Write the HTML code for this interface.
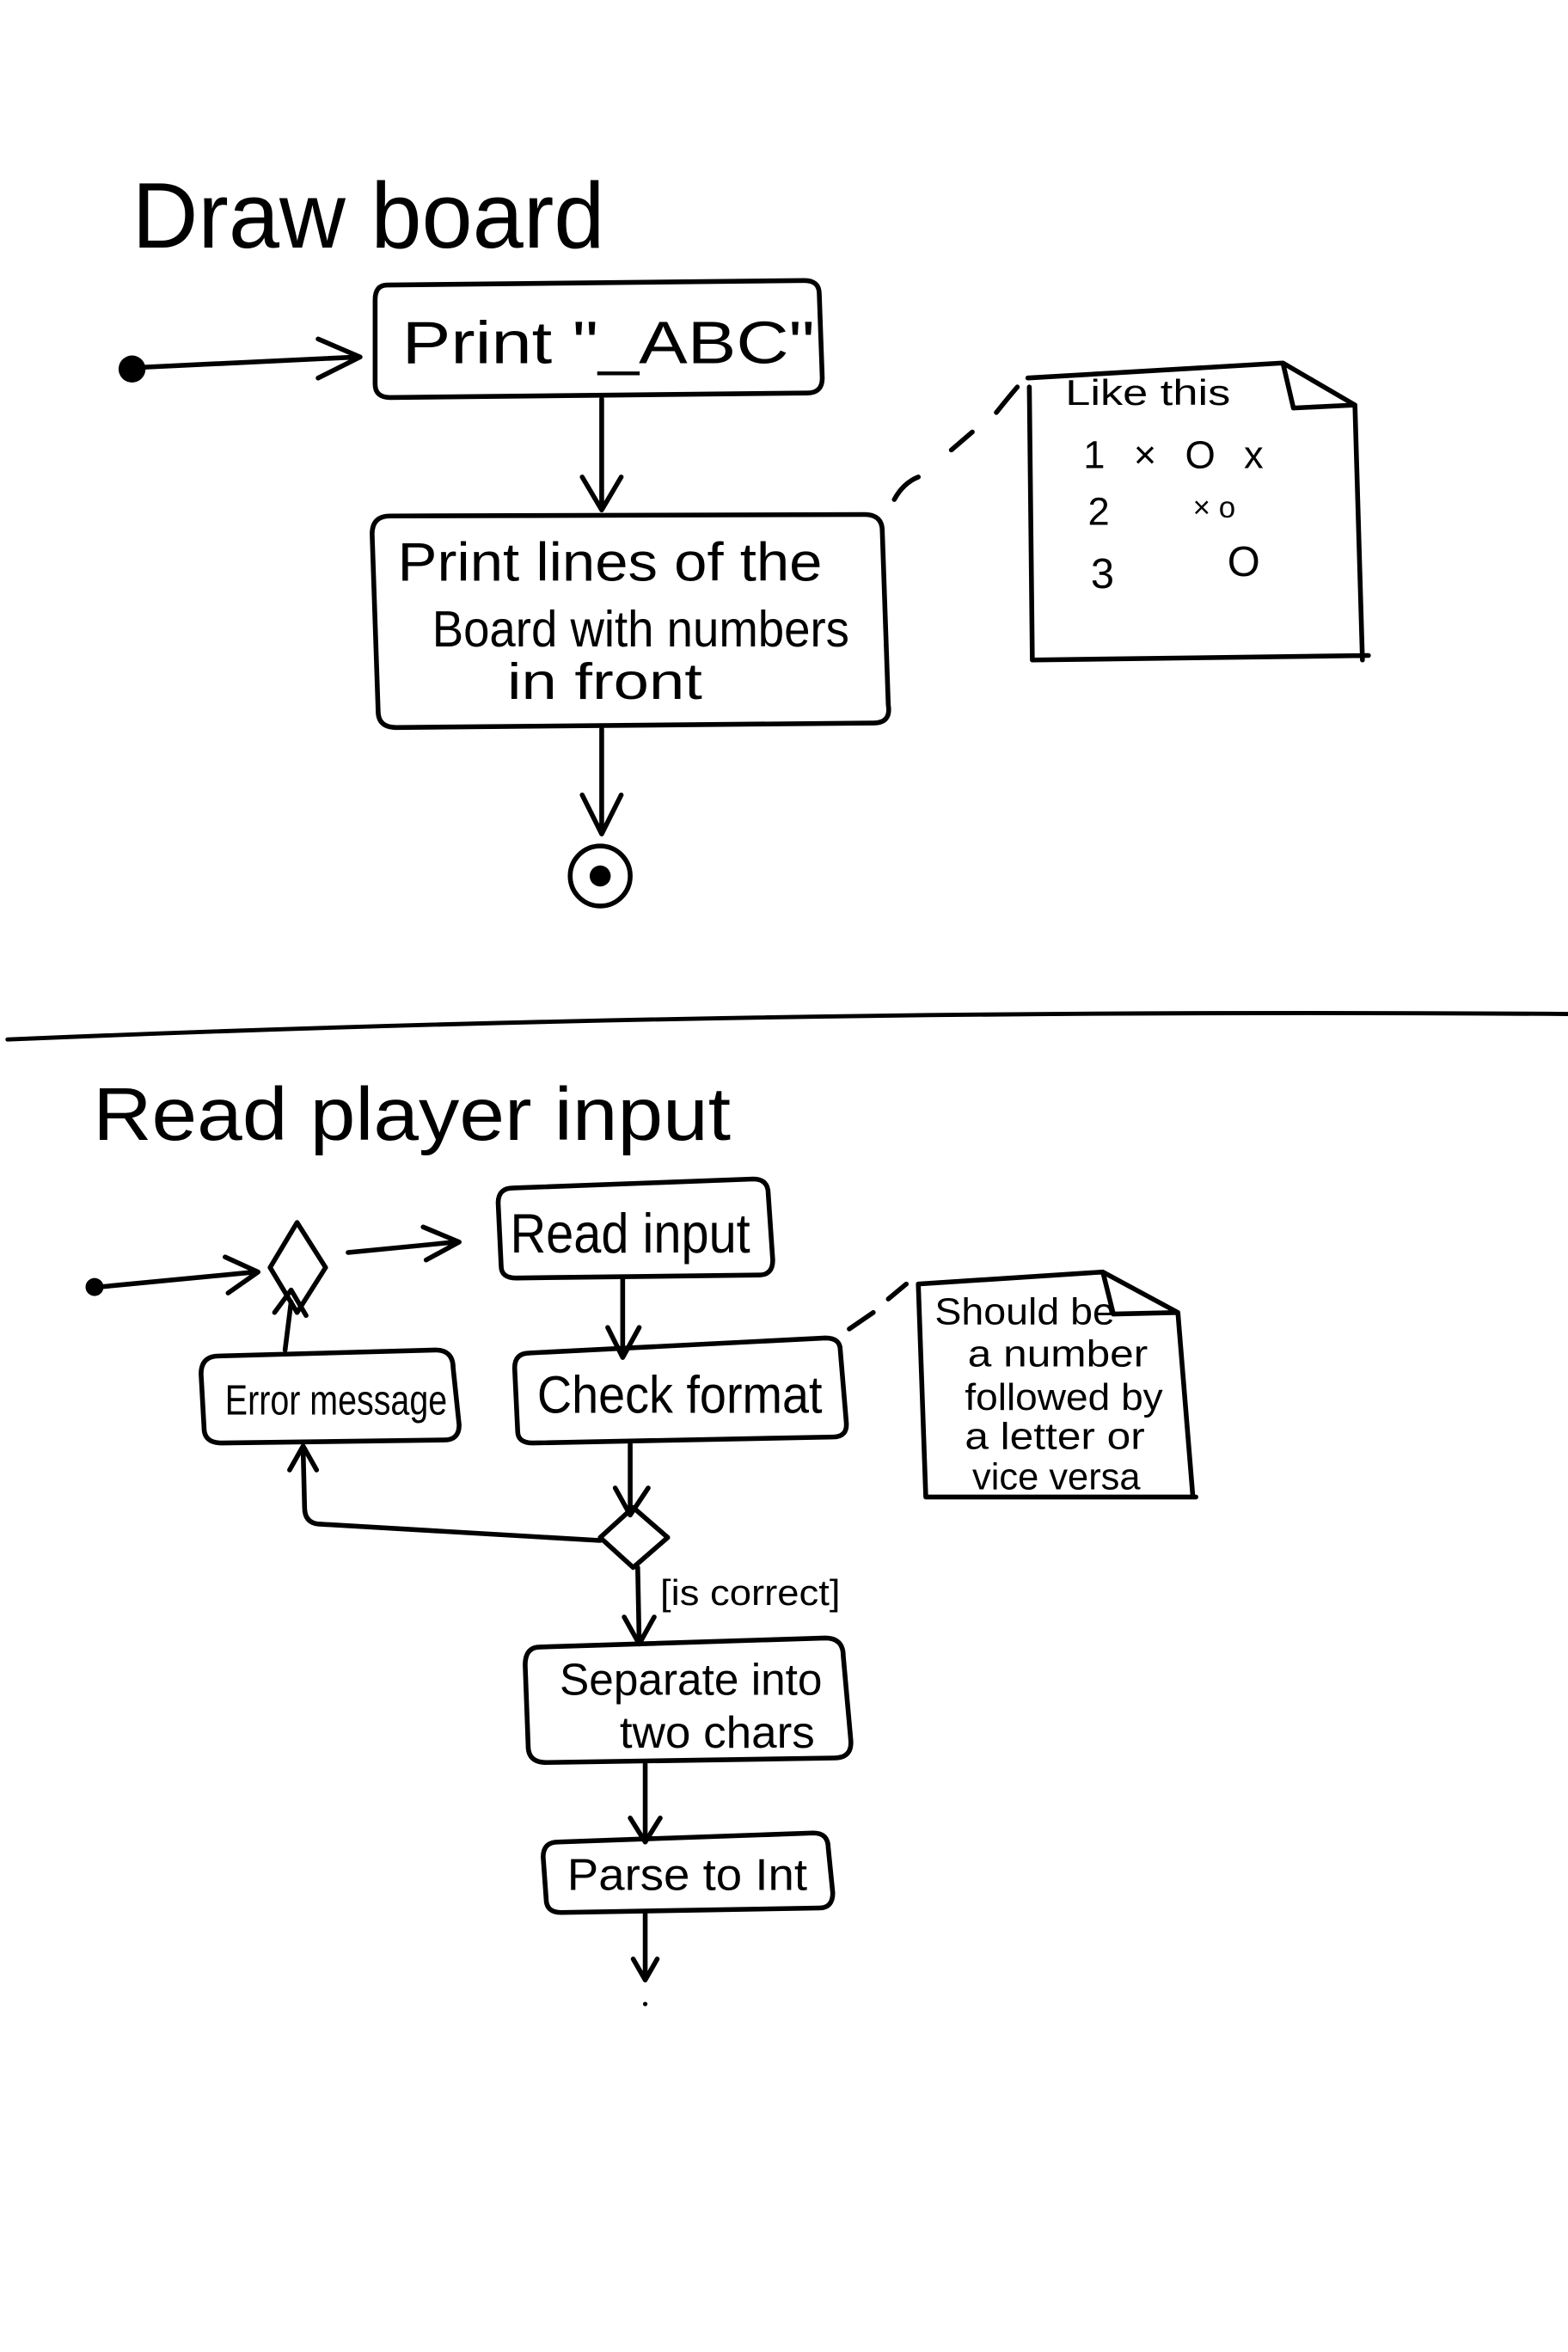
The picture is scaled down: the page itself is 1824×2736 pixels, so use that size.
<!DOCTYPE html>
<html><head><meta charset="utf-8"><style>
html,body{margin:0;padding:0;background:#fff;}
svg{display:block}
text{font-family:"Liberation Sans",sans-serif;fill:#000;}
</style></head><body>
<svg width="1824" height="2736" viewBox="0 0 1045 1568" preserveAspectRatio="none" xmlns="http://www.w3.org/2000/svg">
<rect width="1045" height="1568" fill="#fff"/>
<g fill="none" stroke="#000" stroke-width="3.2" stroke-linecap="round" stroke-linejoin="round">
<path d="M92 245 L238 238 M212 226 L240 238 L212 252"/>
<path d="M258 190 Q250 190 250 200 L250 256 Q250 265 260 265 L538 262 Q548 262 548 252 L546 196 Q546 187 536 187 Z"/>
<path d="M401 266 L401 338 M388 318 L401 340 L414 318"/>
<path d="M260 344 Q248 344 248 356 L252 474 Q252 485 264 485 L582 482 Q594 482 592 470 L588 354 Q588 343 576 343 Z"/>
<path d="M401 486 L401 553 M388 530 L401 556 L414 530"/>
<circle cx="400" cy="584" r="20"/>
<path d="M596 333 Q602 322 612 318 M634 300 L648 288 M664 275 Q672 265 678 258" />
<path d="M686 258 L688 440 L912 437 M685 252 L855 242 L903 270 L908 440 M855 242 L862 272 L903 270"/>
<path d="M5 693 Q500 672 1045 676" stroke-width="2.8"/>
<path d="M66 858 L170 848 M150 838 L172 848 L152 862"/>
<path d="M198 815 L217 845 L198 875 L180 845 Z"/>
<path d="M232 835 L304 828 M282 818 L306 828 L284 840"/>
<path d="M342 792 Q332 792 332 802 L334 844 Q334 852 344 852 L506 850 Q515 850 515 840 L512 796 Q512 786 502 786 Z"/>
<path d="M415 852 L415 903 M405 885 L415 905 L426 885"/>
<path d="M353 902 Q343 902 343 912 L345 954 Q345 962 355 962 L555 958 Q565 958 564 948 L560 900 Q560 892 550 892 Z"/>
<path d="M146 904 Q134 904 134 916 L136 952 Q136 962 148 962 L296 960 Q306 960 306 950 L302 912 Q302 900 290 900 Z"/>
<path d="M190 900 L194 868 M183 875 L194 860 L204 877"/>
<path d="M420 962 L420 1010 M410 992 L420 1010 L432 992"/>
<path d="M422 1005 L445 1025 L422 1045 L400 1025 Z"/>
<path d="M400 1027 L212 1016 Q203 1015 203 1005 L202 966 M193 980 L202 964 L211 980"/>
<path d="M425 1045 L426 1095 M416 1078 L426 1096 L436 1078"/>
<path d="M360 1098 Q350 1098 350 1110 L352 1164 Q352 1175 364 1175 L556 1172 Q568 1172 567 1160 L562 1104 Q562 1092 550 1092 Z"/>
<path d="M430 1176 L430 1228 M420 1212 L430 1228 L440 1212"/>
<path d="M372 1228 Q362 1228 362 1238 L364 1266 Q364 1275 374 1275 L546 1272 Q555 1272 555 1262 L552 1232 Q552 1222 542 1222 Z"/>
<path d="M430 1276 L430 1320 M422 1306 L430 1320 L438 1306"/>
<path d="M566 886 L582 875 M592 866 L604 856"/>
<path d="M612 856 L617 998 L797 998 M612 856 L735 848 L785 875 L795 998 M735 848 L742 876 L785 875"/>
</g>
<g fill="#000">
<circle cx="88" cy="246" r="9"/>
<circle cx="400" cy="584" r="7"/>
<circle cx="63" cy="858" r="6"/>
<circle cx="430" cy="1336" r="1.5"/>
</g>
<text x="88" y="165" font-size="62" textLength="315" lengthAdjust="spacingAndGlyphs">Draw  board</text>
<text x="268" y="242" font-size="40" textLength="275" lengthAdjust="spacingAndGlyphs">Print "_ABC"</text>
<text x="265" y="387" font-size="36" textLength="283" lengthAdjust="spacingAndGlyphs">Print  lines  of  the</text>
<text x="288" y="431" font-size="34" textLength="278" lengthAdjust="spacingAndGlyphs">Board  with  numbers</text>
<text x="338" y="466" font-size="34" textLength="130" lengthAdjust="spacingAndGlyphs">in  front</text>
<text x="710" y="270" font-size="24" textLength="110" lengthAdjust="spacingAndGlyphs">Like this</text>
<text x="722" y="312" font-size="26" textLength="120" lengthAdjust="spacing">1  ×  O  x</text>
<text x="725" y="350" font-size="26">2</text>
<text x="795" y="345" font-size="20">×  o</text>
<text x="727" y="392" font-size="28">3</text>
<text x="818" y="384" font-size="28">O</text>
<text x="62" y="760" font-size="50" textLength="425" lengthAdjust="spacingAndGlyphs">Read  player  input</text>
<text x="340" y="835" font-size="37" textLength="160" lengthAdjust="spacingAndGlyphs">Read  input</text>
<text x="358" y="942" font-size="35" textLength="190" lengthAdjust="spacingAndGlyphs">Check  format</text>
<text x="150" y="943" font-size="28" textLength="148" lengthAdjust="spacingAndGlyphs">Error message</text>
<text x="440" y="1070" font-size="24" textLength="120" lengthAdjust="spacingAndGlyphs">[is correct]</text>
<text x="373" y="1130" font-size="30" textLength="175" lengthAdjust="spacingAndGlyphs">Separate  into</text>
<text x="413" y="1165" font-size="30" textLength="130" lengthAdjust="spacingAndGlyphs">two  chars</text>
<text x="378" y="1260" font-size="30" textLength="160" lengthAdjust="spacingAndGlyphs">Parse to  Int</text>
<text x="623" y="883" font-size="25" textLength="120" lengthAdjust="spacingAndGlyphs">Should  be</text>
<text x="645" y="911" font-size="25" textLength="120" lengthAdjust="spacingAndGlyphs">a  number</text>
<text x="643" y="940" font-size="25" textLength="132" lengthAdjust="spacingAndGlyphs">followed  by</text>
<text x="643" y="966" font-size="25" textLength="120" lengthAdjust="spacingAndGlyphs">a  letter  or</text>
<text x="648" y="993" font-size="25" textLength="112" lengthAdjust="spacingAndGlyphs">vice  versa</text>
</svg>
</body></html>
